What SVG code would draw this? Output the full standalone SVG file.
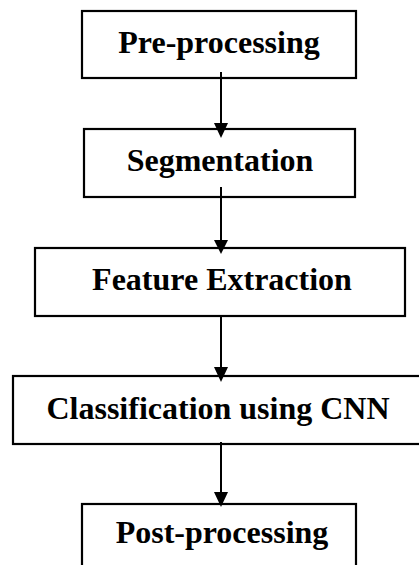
<svg xmlns="http://www.w3.org/2000/svg" width="419" height="565" viewBox="0 0 419 565">
<style>
.box{fill:#fff;stroke:#000;stroke-width:2.2}
.lbl{font-family:"Liberation Serif","Times New Roman",serif;font-weight:bold;font-size:32px;fill:#000;text-anchor:middle}
.ln{stroke:#000;stroke-width:2}
.ah{fill:#000}
</style>
<rect width="419" height="565" fill="#fff"/>
<g id="n1"><rect class="box" x="82" y="11" width="274" height="67"/><text class="lbl" x="219" y="53">Pre-processing</text></g>
<g id="n2"><rect class="box" x="84" y="129" width="271" height="68"/><text class="lbl" x="220" y="171">Segmentation</text></g>
<g id="n3"><rect class="box" x="35" y="248" width="370" height="68"/><text class="lbl" x="222" y="290">Feature Extraction</text></g>
<g id="n4"><rect class="box" x="13" y="376" width="410" height="68"/><text class="lbl" x="218" y="419">Classification using CNN</text></g>
<g id="n5"><rect class="box" x="82" y="504" width="274" height="70"/><text class="lbl" x="222" y="543">Post-processing</text></g>
<g id="connectors">
<line class="ln" x1="221" y1="72" x2="221" y2="125"/><polygon class="ah" points="214,123 228,123 221,138"/>
<line class="ln" x1="221" y1="187" x2="221" y2="242"/><polygon class="ah" points="214,240 228,240 221,254"/>
<line class="ln" x1="221" y1="315" x2="221" y2="369"/><polygon class="ah" points="214,367 228,367 221,382"/>
<line class="ln" x1="221" y1="442" x2="221" y2="494"/><polygon class="ah" points="214,492 228,492 221,507"/>
</g>
</svg>
